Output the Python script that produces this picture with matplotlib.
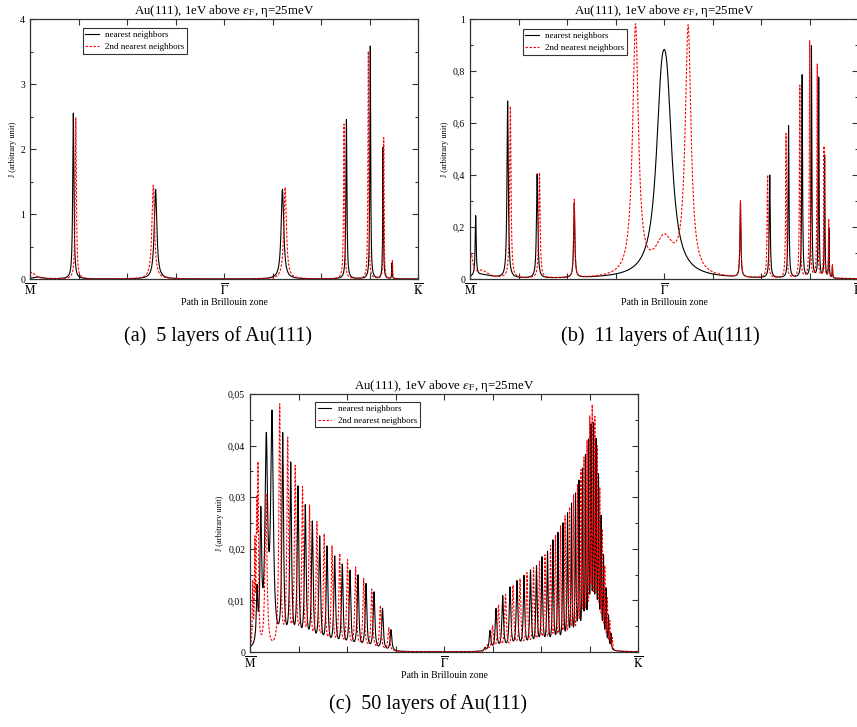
import numpy as np
import matplotlib
matplotlib.use("Agg")
import matplotlib.pyplot as plt

plt.rcParams['font.family'] = ['Liberation Serif', 'DejaVu Serif']
plt.rcParams['mathtext.fontset'] = 'stix'

# ---------------- data ----------------
title = 'Au(111), 1eV above $\\varepsilon_{\\mathrm{F}}$, η=25meV'
series_labels = ['nearest neighbors', '2nd nearest neighbors']
path_ticks = [0.0, 0.5, 1.0]
path_labels = [r'$\overline{\mathrm{M}}$', r'$\overline{\Gamma}$', r'$\overline{\mathrm{K}}$']
captions = ['(a)  5 layers of Au(111)', '(b)  11 layers of Au(111)', '(c)  50 layers of Au(111)']

# panel (a): 5 layers -- peak position (path fraction), height, half width
a_nn_pos = [0.020, 0.1116, 0.3236, 0.6506, 0.8155, 0.8770, 0.9100, 0.9330]
a_nn_h   = [0.030, 2.55, 1.38, 1.38, 2.45, 3.58, 2.02, 0.24]
a_nn_w   = [0.015, 0.0018, 0.004, 0.004, 0.0015, 0.0012, 0.0010, 0.0008]
a_2n_pos = [0.005, 0.1180, 0.3176, 0.6575, 0.8094, 0.8720, 0.9116, 0.9340]
a_2n_h   = [0.100, 2.48, 1.44, 1.41, 2.38, 3.50, 2.17, 0.29]
a_2n_w   = [0.010, 0.0018, 0.004, 0.004, 0.0015, 0.0012, 0.0010, 0.0008]
a_yticks = [0, 1, 2, 3, 4]
a_ylabels = ['0', '1', '2', '3', '4']

# panel (b): 11 layers
b_nn_pos = [0.0146, 0.030, 0.0970, 0.1730, 0.2687, 0.4930, 0.5078, 0.6970, 0.7725, 0.8210,
            0.8560, 0.8800, 0.8987, 0.9140, 0.9250, 0.9340]
b_nn_h   = [0.23, 0.015, 0.68, 0.40, 0.285, 0.525, 0.525, 0.285, 0.395, 0.585,
            0.78, 0.89, 0.77, 0.47, 0.19, 0.045]
b_nn_w   = [0.0015, 0.030, 0.002, 0.002, 0.0018, 0.017, 0.017, 0.0015, 0.0015, 0.0013,
            0.0012, 0.0011, 0.0010, 0.0009, 0.0008, 0.0007]
b_2n_pos = [0.0030, 0.030, 0.1040, 0.1790, 0.2687, 0.4266, 0.5004, 0.5622, 0.6970,
            0.7670, 0.8146, 0.8500, 0.8755, 0.8950, 0.9124, 0.9245, 0.9340]
b_2n_h   = [0.085, 0.030, 0.66, 0.405, 0.30, 0.96, 0.14, 0.95, 0.295,
            0.395, 0.555, 0.74, 0.91, 0.82, 0.505, 0.225, 0.05]
b_2n_w   = [0.005, 0.020, 0.002, 0.002, 0.0018, 0.009, 0.028, 0.009, 0.0015,
            0.0015, 0.0013, 0.0012, 0.0011, 0.0010, 0.0009, 0.0008, 0.0007]
b_yticks = [0, 0.2, 0.4, 0.6, 0.8, 1.0]
b_ylabels = ['0', '0,2', '0,4', '0,6', '0,8', '1']

# panel (c): 50 layers
c_nn_pos = [0.0180, 0.0278, 0.0420, 0.0567, 0.0843, 0.1049, 0.1237, 0.1425, 0.1606,
            0.1796, 0.1985, 0.2183, 0.2379, 0.2577, 0.2784, 0.2990, 0.3196, 0.3415,
            0.3634,
            0.6057, 0.6186, 0.6340, 0.6513, 0.6701, 0.6881, 0.7062, 0.7229, 0.7384,
            0.7526, 0.7668, 0.7809, 0.7938, 0.8067, 0.8183, 0.8286, 0.8389, 0.8479,
            0.8570, 0.8647, 0.8724, 0.8789, 0.8853, 0.8918, 0.8982, 0.9046, 0.9111,
            0.9175, 0.9240, 0.9304]
c_nn_h   = [0.0100, 0.0240, 0.0385, 0.0435, 0.0405, 0.0350, 0.0305, 0.0270, 0.0240,
            0.0213, 0.0195, 0.0177, 0.0162, 0.0151, 0.0143, 0.0127, 0.0112, 0.0081,
            0.0041,
            0.0006, 0.0038, 0.0080, 0.0104, 0.0120, 0.0132, 0.0141, 0.0151, 0.0158,
            0.0175, 0.0185, 0.0207, 0.0220, 0.0238, 0.0255, 0.0272, 0.0290, 0.0312,
            0.0333, 0.0355, 0.0380, 0.0405, 0.0408, 0.0380, 0.0315, 0.0240, 0.0170,
            0.0110, 0.0062, 0.0030]
c_nn_w   = [0.0020, 0.0025, 0.0040, 0.0040, 0.0025, 0.0025, 0.0025, 0.0025, 0.0025,
            0.0025, 0.0025, 0.0025, 0.0025, 0.0025, 0.0025, 0.0025, 0.0025, 0.0025,
            0.0025,
            0.0025, 0.0025, 0.0025, 0.0025, 0.0025, 0.0025, 0.0022, 0.0022, 0.0020,
            0.0020, 0.0018, 0.0018, 0.0016, 0.0016, 0.0015, 0.0014, 0.0014, 0.0013,
            0.0013, 0.0012, 0.0012, 0.0012, 0.0012, 0.0012, 0.0012, 0.0012, 0.0012,
            0.0012, 0.0012, 0.0012]
c_2n_pos = [0.0070, 0.0125, 0.0172, 0.0206, 0.0412, 0.0765, 0.0972, 0.1165, 0.1353,
            0.1534, 0.1724, 0.1912, 0.2113, 0.2312, 0.2513, 0.2722, 0.2930, 0.3139,
            0.3358, 0.3577,
            0.6121, 0.6250, 0.6405, 0.6585, 0.6778, 0.6959, 0.7139, 0.7307, 0.7461,
            0.7603, 0.7745, 0.7874, 0.8003, 0.8119, 0.8235, 0.8338, 0.8441, 0.8531,
            0.8608, 0.8686, 0.8758, 0.8820, 0.8887, 0.8951, 0.9015, 0.9080, 0.9144,
            0.9209, 0.9273, 0.9338]
c_2n_h   = [0.0120, 0.0190, 0.0230, 0.0330, 0.0300, 0.0470, 0.0400, 0.0345, 0.0305,
            0.0270, 0.0240, 0.0218, 0.0196, 0.0182, 0.0171, 0.0158, 0.0137, 0.0117,
            0.0087, 0.0045,
            0.0011, 0.0047, 0.0087, 0.0106, 0.0123, 0.0135, 0.0146, 0.0155, 0.0166,
            0.0178, 0.0195, 0.0215, 0.0231, 0.0250, 0.0265, 0.0287, 0.0305, 0.0328,
            0.0350, 0.0378, 0.0420, 0.0440, 0.0420, 0.0365, 0.0290, 0.0215, 0.0150,
            0.0092, 0.0052, 0.0022]
c_2n_w   = [0.0012, 0.0012, 0.0012, 0.0015, 0.0030, 0.0025, 0.0025, 0.0025, 0.0025,
            0.0025, 0.0025, 0.0025, 0.0025, 0.0025, 0.0025, 0.0025, 0.0025, 0.0025,
            0.0025, 0.0025,
            0.0025, 0.0025, 0.0025, 0.0025, 0.0025, 0.0025, 0.0022, 0.0022, 0.0020,
            0.0020, 0.0018, 0.0018, 0.0016, 0.0016, 0.0015, 0.0014, 0.0014, 0.0013,
            0.0013, 0.0012, 0.0012, 0.0012, 0.0012, 0.0012, 0.0012, 0.0012, 0.0012,
            0.0012, 0.0012, 0.0012]
c_yticks = [0, 0.01, 0.02, 0.03, 0.04, 0.05]
c_ylabels = ['0', '0,01', '0,02', '0,03', '0,04', '0,05']


def spectrum(x, pos, h, w):
    p = np.asarray(pos)[:, None]
    hh = np.asarray(h)[:, None]
    ww = np.asarray(w)[:, None]
    return (hh * ww**2 / ((x[None, :] - p)**2 + ww**2)).sum(axis=0)


x = np.linspace(0, 1, 12001)

fig = plt.figure(figsize=(8.57, 7.27), dpi=100)
W, H = 857.0, 727.0

def make_ax(l, t, w, h):
    return fig.add_axes([l / W, 1 - (t + h) / H, w / W, h / H])

panels = [
    (make_ax(30, 19, 388, 260), (a_nn_pos, a_nn_h, a_nn_w), (a_2n_pos, a_2n_h, a_2n_w),
     a_yticks, a_ylabels, 4, (0.136, 0.964)),
    (make_ax(470, 19, 388, 260), (b_nn_pos, b_nn_h, b_nn_w), (b_2n_pos, b_2n_h, b_2n_w),
     b_yticks, b_ylabels, 1.0, (0.136, 0.960)),
    (make_ax(250, 394, 388, 258), (c_nn_pos, c_nn_h, c_nn_w), (c_2n_pos, c_2n_h, c_2n_w),
     c_yticks, c_ylabels, 0.05, (0.1675, 0.968)),
]

edge = '#333333'
for ax, nn, nn2, yt, yl, ymax, lpos in panels:
    ax.plot(x, spectrum(x, *nn), color='black', lw=0.8, label=series_labels[0])
    ax.plot(x, spectrum(x, *nn2), color='red', lw=0.8, dashes=(2.2, 1.4),
            label=series_labels[1])
    ax.set_xlim(0, 1)
    ax.set_ylim(0, ymax)
    ax.set_xticks(path_ticks)
    ax.set_xticklabels(path_labels, fontsize=8.5)
    ax.set_xticks(np.arange(1, 8) / 8, minor=True)
    ax.set_yticks(yt)
    ax.set_yticklabels(yl, fontsize=7)
    ax.set_yticks((np.array(yt[:-1]) + np.array(yt[1:])) / 2, minor=True)
    ax.tick_params(which='both', direction='in', top=True, right=True,
                   color=edge, width=0.8)
    ax.tick_params(which='major', length=4)
    ax.tick_params(axis='x', which='major', pad=2.5)
    ax.tick_params(axis='y', which='major', pad=3.5)
    ax.tick_params(axis='x', which='minor', length=4)
    ax.tick_params(axis='y', which='minor', length=2.5)
    for s in ax.spines.values():
        s.set_color(edge)
        s.set_linewidth(0.9)
    ax.set_title(title, fontsize=9.3, pad=3)
    ax.set_xlabel('Path in Brillouin zone', fontsize=7, labelpad=0)
    ax.set_ylabel('J (arbitrary unit)', fontsize=6, labelpad=2.5)
    leg = ax.legend(loc='upper left', bbox_to_anchor=lpos, borderaxespad=0,
                    fontsize=6.5, frameon=True, fancybox=False, framealpha=1,
                    edgecolor=edge, handlelength=1.5, handletextpad=0.7,
                    labelspacing=0.35, borderpad=0.3)
    leg.get_frame().set_linewidth(0.8)

fig.text(218 / W, 1 - 336 / H, captions[0], fontsize=14.5, ha='center', va='center')
fig.text(660 / W, 1 - 336 / H, captions[1], fontsize=14.5, ha='center', va='center')
fig.text(428 / W, 1 - 704 / H, captions[2], fontsize=14.5, ha='center', va='center')

fig.savefig('out.png', dpi=100)
